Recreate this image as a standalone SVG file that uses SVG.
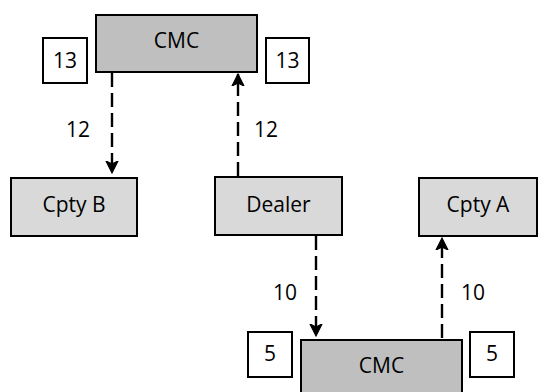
<svg xmlns="http://www.w3.org/2000/svg" width="538" height="392" viewBox="0 0 538 392">
<style>
.box{stroke:#000;stroke-width:2}
.cmc{fill:#bfbfbf}
.party{fill:#d9d9d9}
.num{fill:#fff}
text{font-family:"Open Sans","Liberation Sans",sans-serif;font-size:21px;fill:#000;text-anchor:middle}
.conn{stroke:#000;stroke-width:2.4;stroke-dasharray:14,6;fill:none}
</style>
<defs>
<marker id="ah" viewBox="0 0 14 14" refX="12" refY="7" markerWidth="14" markerHeight="14" markerUnits="userSpaceOnUse" orient="auto">
<path d="M0,1 L12,7 L0,13 L3,7 z" fill="#000" stroke="#000" stroke-width="1.2" stroke-linejoin="miter"/>
</marker>
</defs>
<rect width="538" height="392" fill="#fff"/>
<g id="cmc-top"><rect class="box cmc" x="96" y="15" width="161" height="57"/><text x="176.5" y="48">CMC</text></g>
<g id="n13-left"><rect class="box num" x="43" y="38" width="44" height="45"/><text x="65" y="68">13</text></g>
<g id="n13-right"><rect class="box num" x="266" y="38" width="43" height="45"/><text x="287.5" y="68">13</text></g>
<g id="cpty-b"><rect class="box party" x="11" y="178" width="126" height="58"/><text x="74" y="212">Cpty B</text></g>
<g id="dealer"><rect class="box party" x="215" y="177" width="127" height="58"/><text x="278.5" y="212">Dealer</text></g>
<g id="cpty-a"><rect class="box party" x="419" y="178" width="118" height="58"/><text x="478" y="212">Cpty A</text></g>
<g id="cmc-bottom"><rect class="box cmc" x="301" y="340" width="161" height="60"/><text x="381.5" y="373">CMC</text></g>
<g id="n5-left"><rect class="box num" x="248" y="332" width="44" height="45"/><text x="270" y="361">5</text></g>
<g id="n5-right"><rect class="box num" x="470" y="332" width="44" height="45"/><text x="492" y="361">5</text></g>
<g id="connectors">
<line class="conn" x1="112" y1="73" x2="112" y2="173" marker-end="url(#ah)"/>
<line class="conn" x1="238" y1="176" x2="238" y2="74" marker-end="url(#ah)"/>
<line class="conn" x1="316" y1="236" x2="316" y2="336" marker-end="url(#ah)"/>
<line class="conn" x1="442" y1="338" x2="442" y2="238" marker-end="url(#ah)"/>
<text x="78" y="137">12</text>
<text x="266" y="137">12</text>
<text x="285" y="300">10</text>
<text x="473" y="300">10</text>
</g>
</svg>
